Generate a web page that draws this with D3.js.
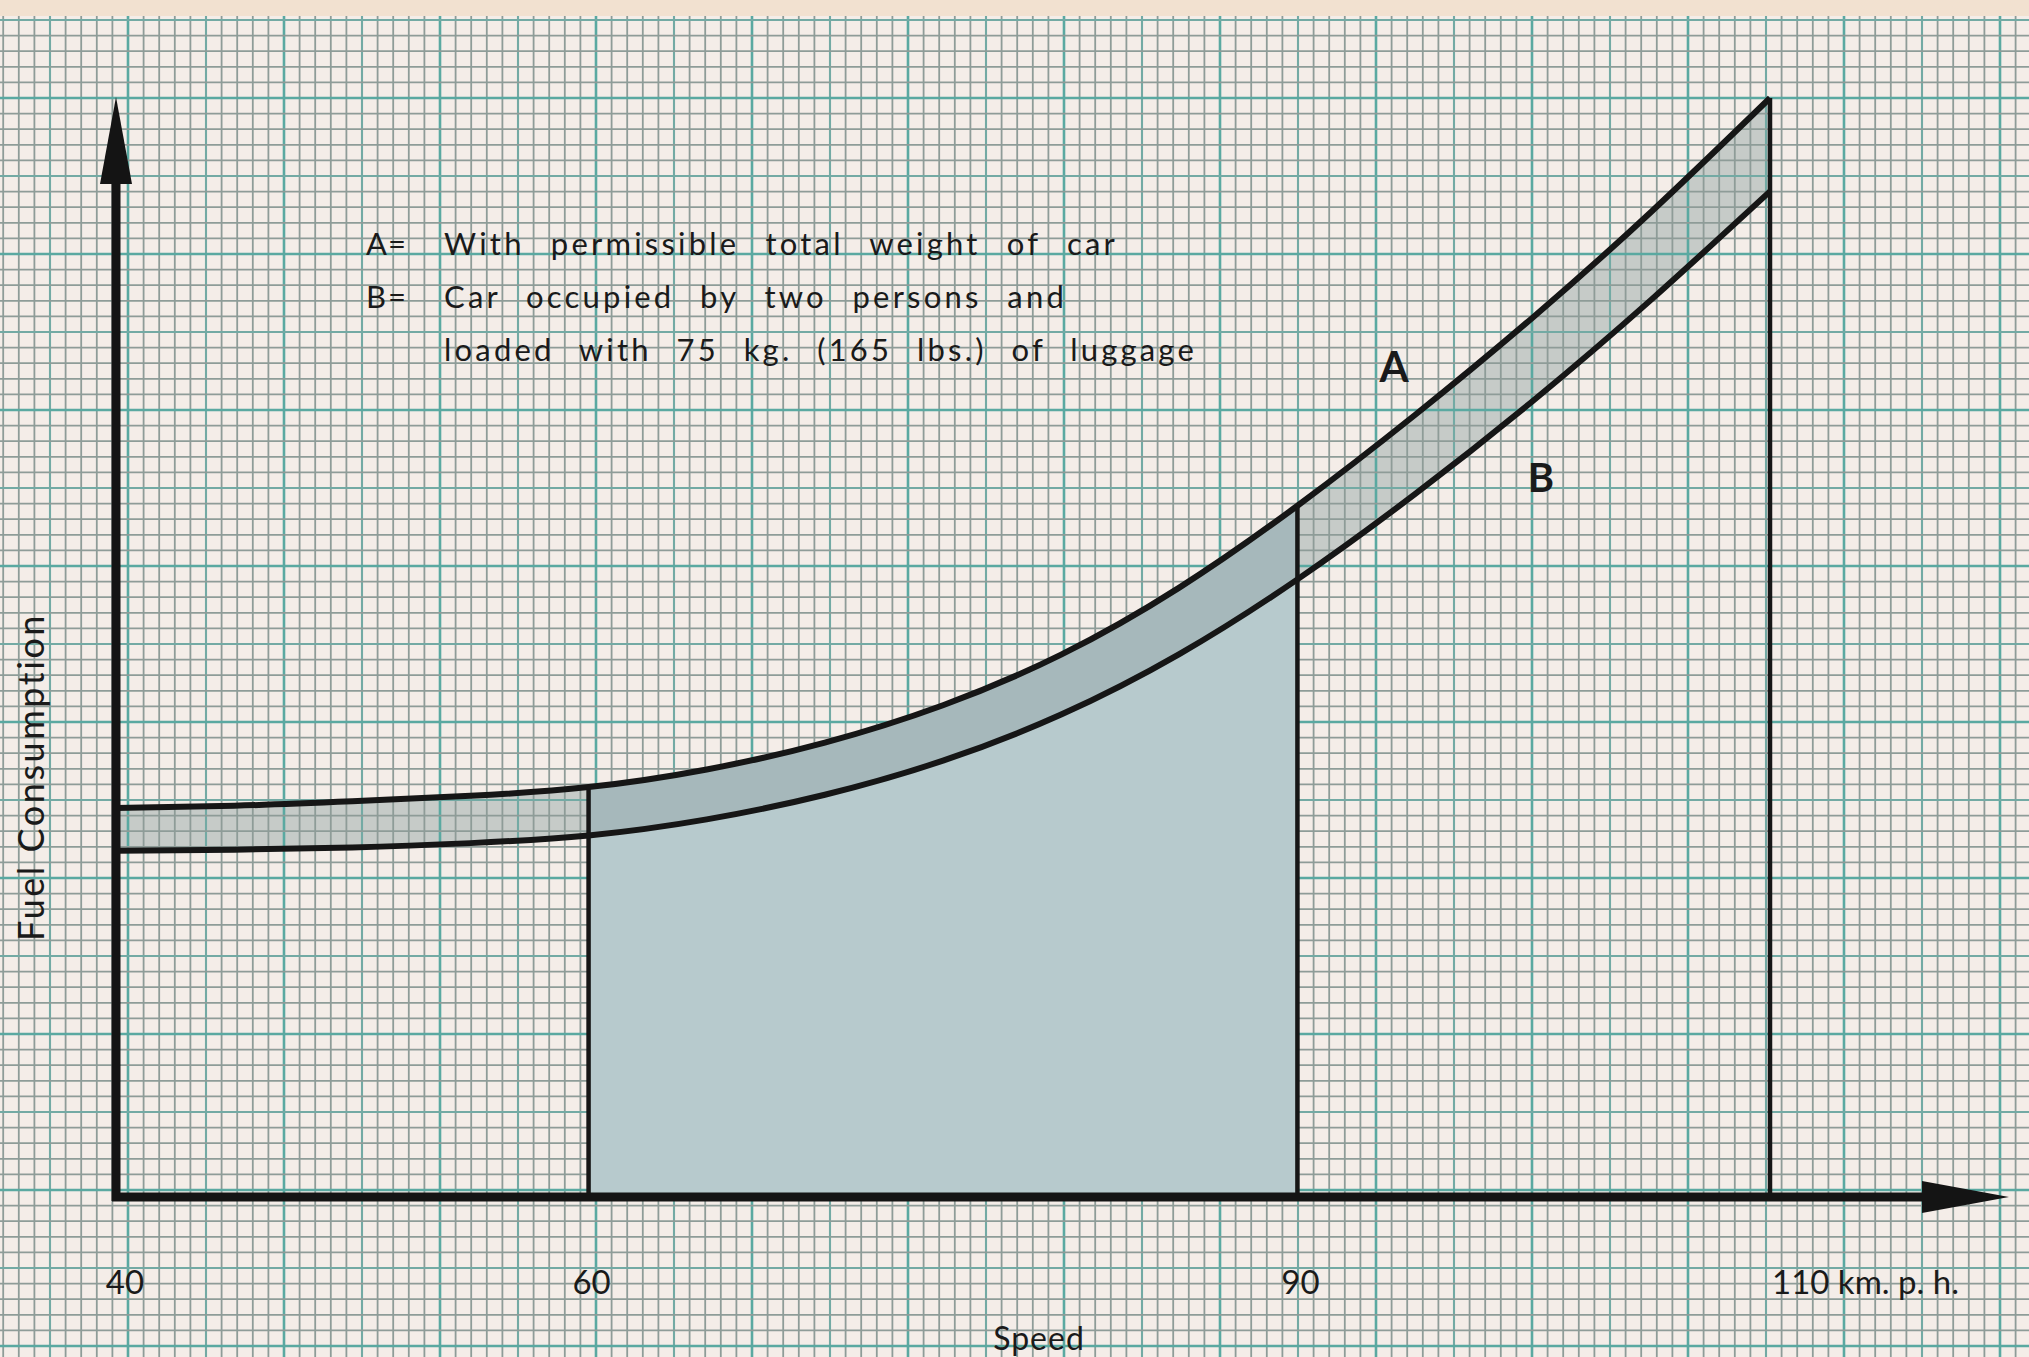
<!DOCTYPE html>
<html>
<head>
<meta charset="utf-8">
<script src="https://cdn.jsdelivr.net/npm/d3@7"></script>
<style>
  html, body { margin: 0; padding: 0; background: #f4ede8; overflow: hidden; }
  text { font-family: Lato, "Open Sans", sans-serif; fill: #1a1a1a; }
</style>
</head>
<body>
<div id="output"></div>
<script>
// speed in km/h and relative fuel consumption (no units on the original axis)
var speeds = [40, 45, 50, 55, 60, 65, 70, 75, 80, 85, 90, 95, 100, 105, 110];
var fuelA  = [35.4, 35.6, 36.0, 36.5, 37.3, 38.9, 41.35, 44.75, 49.35, 55.45, 62.9, 71.2, 80.1, 89.7, 100];
var fuelB  = [31.5, 31.6, 31.8, 32.2, 32.9, 34.36, 36.6, 39.7, 43.9, 49.4, 56.2, 64.0, 72.5, 81.7, 91.5];

var speedTicks = [40, 60, 90, 110];
var speedUnit = ' km. p. h.';
var shaded = [60, 90];   // economical range, filled solid
var markers = [60, 90, 110];

var legendKeys = ['A', 'B', ''];
var legendText = [
  'With permissible total weight of car',
  'Car occupied by two persons and',
  'loaded with 75 kg. (165 lbs.) of luggage'
];

var width = 2029;
var height = 1357;

var svg = d3.select('#output')
  .append('svg')
  .attr('width', width)
  .attr('height', height);

var x = d3.scaleLinear().domain([40, 110]).range([116, 1770]);
var y = d3.scaleLinear().domain([0, 100]).range([1197, 98]);

var rows = speeds.map(function(s, i){ return {s: s, a: fuelA[i], b: fuelB[i]}; });

// paper
svg.append('rect').attr('width', width).attr('height', height).attr('fill', '#f4ede8');
svg.append('rect').attr('width', width).attr('height', 16).attr('fill', '#f2e1d0');

// band between A and B (light, grid shows through)
var band = d3.area()
  .x(function(d){ return x(d.s); })
  .y0(function(d){ return y(d.b); })
  .y1(function(d){ return y(d.a); })
  .curve(d3.curveNatural);

svg.append('path').datum(rows).attr('d', band).attr('fill', '#c6cbc8');

// graph paper
var cell = 15.6;
var gx0 = 128, gy0 = 98;
var gridColor = ['#8e9c98', '#73aaa4', '#5aa9a1'];
var gridWidth = [1.8, 2.1, 2.6];
var grid = svg.append('g');
d3.range(-9, 125).forEach(function(k){
  var px = gx0 + k * cell;
  if (px < 0 || px > width) return;
  var cls = k % 10 === 0 ? 2 : (k % 5 === 0 ? 1 : 0);
  grid.append('line')
    .attr('x1', px).attr('x2', px).attr('y1', 16).attr('y2', height)
    .attr('stroke', gridColor[cls]).attr('stroke-width', gridWidth[cls]);
});
d3.range(-5, 85).forEach(function(k){
  var py = gy0 + k * cell;
  if (py < 16 || py > height) return;
  var cls = k % 10 === 0 ? 2 : (k % 5 === 0 ? 1 : 0);
  grid.append('line')
    .attr('x1', 0).attr('x2', width).attr('y1', py).attr('y2', py)
    .attr('stroke', gridColor[cls]).attr('stroke-width', gridWidth[cls]);
});

// solid shading for the 60-90 range
svg.append('clipPath').attr('id', 'mid')
  .append('rect')
  .attr('x', x(shaded[0])).attr('width', x(shaded[1]) - x(shaded[0]))
  .attr('y', 0).attr('height', height);

var under = d3.area()
  .x(function(d){ return x(d.s); })
  .y0(y(0))
  .y1(function(d){ return y(d.b); })
  .curve(d3.curveNatural);

svg.append('path').datum(rows).attr('d', under)
  .attr('fill', '#b7cacd').attr('clip-path', 'url(#mid)');
svg.append('path').datum(rows).attr('d', band)
  .attr('fill', '#a6b8bb').attr('clip-path', 'url(#mid)');

// curves
var lineA = d3.line().x(function(d){ return x(d.s); }).y(function(d){ return y(d.a); }).curve(d3.curveNatural);
var lineB = d3.line().x(function(d){ return x(d.s); }).y(function(d){ return y(d.b); }).curve(d3.curveNatural);

svg.append('path').datum(rows).attr('d', lineA)
  .attr('fill', 'none').attr('stroke', '#161616').attr('stroke-width', 6);
svg.append('path').datum(rows).attr('d', lineB)
  .attr('fill', 'none').attr('stroke', '#161616').attr('stroke-width', 6);

// vertical markers up to curve A
svg.selectAll('.marker')
  .data(markers)
  .enter()
  .append('line')
  .attr('class', 'marker')
  .attr('x1', function(d){ return x(d); })
  .attr('x2', function(d){ return x(d); })
  .attr('y1', y(0))
  .attr('y2', function(d){ return y(fuelA[speeds.indexOf(d)]); })
  .attr('stroke', '#161616')
  .attr('stroke-width', 4.5);

// axes with arrow heads
var axisColor = '#141414';
svg.append('line')
  .attr('x1', x(40)).attr('x2', x(40)).attr('y1', y(0) + 4).attr('y2', 170)
  .attr('stroke', axisColor).attr('stroke-width', 9);
svg.append('path')
  .attr('d', 'M' + x(40) + ',97 L' + (x(40) + 16) + ',184 L' + (x(40) - 16) + ',184 Z')
  .attr('fill', axisColor);

svg.append('line')
  .attr('x1', x(40) - 4).attr('x2', 1935).attr('y1', y(0)).attr('y2', y(0))
  .attr('stroke', axisColor).attr('stroke-width', 9);
svg.append('path')
  .attr('d', 'M2009,' + y(0) + ' L1922,' + (y(0) - 16) + ' L1922,' + (y(0) + 16) + ' Z')
  .attr('fill', axisColor);

// tick labels
svg.selectAll('.tick-label')
  .data(speedTicks)
  .enter()
  .append('text')
  .attr('class', 'tick-label')
  .attr('x', function(d, i){ return i === 0 ? x(d) + 9 : (i === speedTicks.length - 1 ? x(d) + 2 : x(d) + 3); })
  .attr('y', 1294)
  .attr('text-anchor', function(d, i){ return i === speedTicks.length - 1 ? 'start' : 'middle'; })
  .attr('font-size', 33)
  .text(function(d, i){ return i === speedTicks.length - 1 ? d + speedUnit : d; });

svg.append('text')
  .attr('x', 1039).attr('y', 1350)
  .attr('text-anchor', 'middle')
  .attr('font-size', 32)
  .attr('letter-spacing', 1)
  .text('Speed');

// stretch a text to a given width by widening the gaps
function fitWidth(sel, target, useWords){
  var len = sel.node().getComputedTextLength();
  var t = sel.text();
  if (useWords) {
    var n = (t.match(/ /g) || []).length;
    if (n) sel.attr('word-spacing', Math.max(0, (target - len) / n));
  } else {
    sel.attr('letter-spacing', (target - len) / (t.length - 1));
  }
}

var yLabel = svg.append('text')
  .attr('transform', 'translate(44,613) rotate(-90)')
  .attr('text-anchor', 'end')
  .attr('font-size', 36)
  .text('Fuel Consumption');
fitWidth(yLabel, 326, false);

// legend
var legendY = [255, 308, 361];
var legendEnd = [1118, 1067, 1197];
legendText.forEach(function(t, i){
  if (legendKeys[i]) {
    svg.append('text').attr('x', 366).attr('y', legendY[i]).attr('font-size', 31).text(legendKeys[i]);
    svg.append('text').attr('x', 388).attr('y', legendY[i]).attr('font-size', 31).text('=');
  }
  var row = svg.append('text')
    .attr('x', 444).attr('y', legendY[i])
    .attr('font-size', 31)
    .attr('letter-spacing', 3.2)
    .text(t);
  fitWidth(row, legendEnd[i] - 444, true);
});

// curve labels
svg.append('text').attr('x', 1394).attr('y', 382).attr('text-anchor', 'middle')
  .attr('font-size', 42).attr('font-weight', 700).text('A');
svg.append('text').attr('x', 1541).attr('y', 492).attr('text-anchor', 'middle')
  .attr('font-size', 40).attr('font-weight', 700).text('B');
</script>
</body>
</html>
